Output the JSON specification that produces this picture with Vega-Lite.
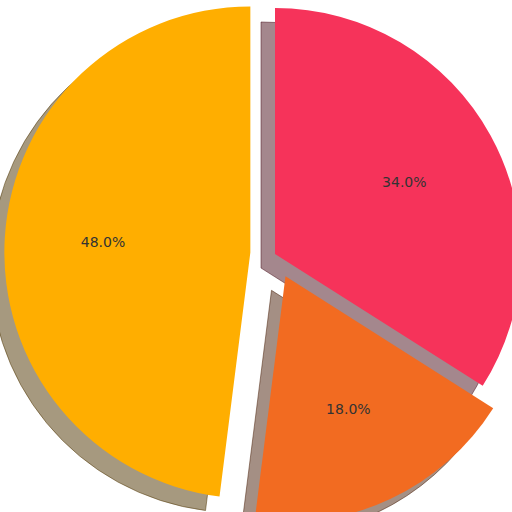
{
  "$schema": "https://vega.github.io/schema/vega-lite/v6.json",
  "width": 512,
  "height": 512,
  "padding": 0,
  "autosize": "none",
  "background": "white",
  "config": {"view": {"stroke": null}},
  "data": {"values": [
    {"segment": "S1", "share": 0.34},
    {"segment": "S2", "share": 0.18},
    {"segment": "S3", "share": 0.48}
  ]},
  "encoding": {
    "theta": {"field": "share", "type": "quantitative", "stack": true},
    "order": {"field": "segment", "type": "ordinal"}
  },
  "layer": [
    {"mark": {"type": "arc", "outerRadius": 246, "xOffset": 5, "yOffset": 12, "fill": "#4A0F1B", "stroke": "#4A0F1B", "strokeWidth": 1, "fillOpacity": 0.5, "strokeOpacity": 0.5},
     "encoding": {"opacity": {"condition": {"test": "datum.segment === 'S1'", "value": 1}, "value": 0}}},
    {"mark": {"type": "arc", "outerRadius": 246, "xOffset": 15.5, "yOffset": 34.35, "fill": "#49200A", "stroke": "#49200A", "strokeWidth": 1, "fillOpacity": 0.5, "strokeOpacity": 0.5},
     "encoding": {"opacity": {"condition": {"test": "datum.segment === 'S2'", "value": 1}, "value": 0}}},
    {"mark": {"type": "arc", "outerRadius": 246, "xOffset": -19.65, "yOffset": 10.44, "fill": "#4D3400", "stroke": "#4D3400", "strokeWidth": 1, "fillOpacity": 0.5, "strokeOpacity": 0.5},
     "encoding": {"opacity": {"condition": {"test": "datum.segment === 'S3'", "value": 1}, "value": 0}}},
    {"mark": {"type": "arc", "outerRadius": 246, "xOffset": 19, "yOffset": -2, "fill": "#F6335A"},
     "encoding": {"opacity": {"condition": {"test": "datum.segment === 'S1'", "value": 1}, "value": 0}}},
    {"mark": {"type": "arc", "outerRadius": 246, "xOffset": 29.5, "yOffset": 20.35, "fill": "#F26B21"},
     "encoding": {"opacity": {"condition": {"test": "datum.segment === 'S2'", "value": 1}, "value": 0}}},
    {"mark": {"type": "arc", "outerRadius": 246, "xOffset": -5.65, "yOffset": -3.56, "fill": "#FFAE00"},
     "encoding": {"opacity": {"condition": {"test": "datum.segment === 'S3'", "value": 1}, "value": 0}}},
    {"mark": {"type": "text", "radius": 147.6, "xOffset": 19, "yOffset": -2, "fontSize": 14, "font": "DejaVu Sans", "fill": "#333333", "align": "center", "baseline": "middle"},
     "encoding": {"text": {"field": "share", "type": "quantitative", "format": ".1%"}, "opacity": {"condition": {"test": "datum.segment === 'S1'", "value": 1}, "value": 0}}},
    {"mark": {"type": "text", "radius": 147.6, "xOffset": 29.5, "yOffset": 20.35, "fontSize": 14, "font": "DejaVu Sans", "fill": "#333333", "align": "center", "baseline": "middle"},
     "encoding": {"text": {"field": "share", "type": "quantitative", "format": ".1%"}, "opacity": {"condition": {"test": "datum.segment === 'S2'", "value": 1}, "value": 0}}},
    {"mark": {"type": "text", "radius": 147.6, "xOffset": -5.65, "yOffset": -3.56, "fontSize": 14, "font": "DejaVu Sans", "fill": "#333333", "align": "center", "baseline": "middle"},
     "encoding": {"text": {"field": "share", "type": "quantitative", "format": ".1%"}, "opacity": {"condition": {"test": "datum.segment === 'S3'", "value": 1}, "value": 0}}}
  ]
}
